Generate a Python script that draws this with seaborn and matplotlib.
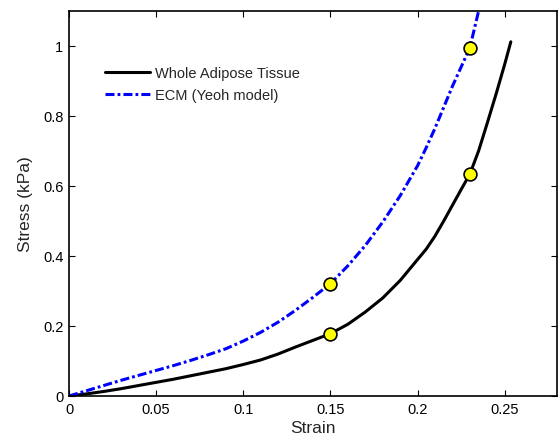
import matplotlib
matplotlib.use("Agg")
import matplotlib.pyplot as plt
import seaborn as sns
import pandas as pd

# Stress-strain curve of whole adipose tissue
tissue_strain = [0.0, 0.01, 0.02, 0.03, 0.04, 0.05, 0.06, 0.07, 0.08, 0.09,
                 0.10, 0.11, 0.12, 0.13, 0.14, 0.15, 0.16, 0.17, 0.18, 0.19,
                 0.20, 0.205, 0.21, 0.215, 0.22, 0.225, 0.23, 0.235, 0.24,
                 0.245, 0.25, 0.2535]
tissue_stress = [0.0, 0.006, 0.013, 0.021, 0.030, 0.039, 0.048, 0.058, 0.068, 0.078,
                 0.090, 0.103, 0.120, 0.140, 0.159, 0.178, 0.205, 0.240, 0.280, 0.330,
                 0.390, 0.420, 0.457, 0.500, 0.545, 0.590, 0.634, 0.700, 0.780,
                 0.862, 0.948, 1.012]

# Stress-strain curve of the ECM (Yeoh hyperelastic fit)
ecm_strain = [0.0, 0.01, 0.02, 0.03, 0.04, 0.05, 0.06, 0.07, 0.08, 0.09,
              0.10, 0.11, 0.12, 0.13, 0.14, 0.15, 0.16, 0.17, 0.18, 0.19,
              0.20, 0.205, 0.21, 0.215, 0.22, 0.225, 0.23, 0.2355]
ecm_stress = [0.0, 0.015, 0.030, 0.045, 0.059, 0.073, 0.087, 0.102, 0.118, 0.135,
              0.157, 0.182, 0.211, 0.245, 0.282, 0.321, 0.372, 0.430, 0.497, 0.572,
              0.658, 0.710, 0.765, 0.825, 0.885, 0.940, 0.995, 1.110]

# Highlighted points at 15% and 23% strain
mark_strain = [0.15, 0.23, 0.15, 0.23]
mark_stress = [0.178, 0.634, 0.321, 0.995]

labels = ["Whole Adipose Tissue", "ECM (Yeoh model)"]
x_ticks = [0, 0.05, 0.1, 0.15, 0.2, 0.25]
x_tick_labels = ["0", "0.05", "0.1", "0.15", "0.2", "0.25"]
y_ticks = [0, 0.2, 0.4, 0.6, 0.8, 1.0]
y_tick_labels = ["0", "0.2", "0.4", "0.6", "0.8", "1"]

sns.set_style("ticks")
plt.rcParams["font.family"] = ["Liberation Sans", "DejaVu Sans"]
plt.rcParams["lines.scale_dashes"] = False

fig = plt.figure(figsize=(5.58, 4.39), dpi=100)
ax = fig.add_axes([69 / 558, 1 - 397 / 439, 488 / 558, 385 / 439])

tissue = pd.DataFrame({"strain": tissue_strain, "stress": tissue_stress})
ecm = pd.DataFrame({"strain": ecm_strain, "stress": ecm_stress})
marks = pd.DataFrame({"strain": mark_strain, "stress": mark_stress})

sns.lineplot(data=tissue, x="strain", y="stress", ax=ax, color="black",
             linewidth=2.2, label=labels[0], sort=False)
sns.lineplot(data=ecm, x="strain", y="stress", ax=ax, color="#0000ff",
             linewidth=2.2, linestyle=(0, (6.5, 2.2, 2.0, 2.2)),
             label=labels[1], sort=False)
sns.scatterplot(data=marks, x="strain", y="stress", ax=ax, s=85,
                color="#ffff00", edgecolor="black", linewidth=1.2,
                zorder=5, legend=False)

ax.set_xlim(0, 0.28)
ax.set_ylim(0, 1.1)
ax.set_xticks(x_ticks)
ax.set_xticklabels(x_tick_labels)
ax.set_yticks(y_ticks)
ax.set_yticklabels(y_tick_labels)
ax.tick_params(direction="in", length=4, width=0.8, top=True, right=True,
               labelsize=10.5, colors="black", pad=4)
for side in ["top", "right", "bottom", "left"]:
    ax.spines[side].set_visible(True)
    ax.spines[side].set_linewidth(1.2)
    ax.spines[side].set_color("black")

ax.set_xlabel("Strain", fontsize=12.5, labelpad=3)
ax.set_ylabel("Stress (kPa)", fontsize=12.5, labelpad=7)

ax.legend(loc="upper left", bbox_to_anchor=(0.074, 0.857), frameon=False,
          fontsize=10.5, handlelength=3.1, handletextpad=0.35,
          borderpad=0, borderaxespad=0, labelspacing=0.55)

fig.savefig("out.png", dpi=100)
